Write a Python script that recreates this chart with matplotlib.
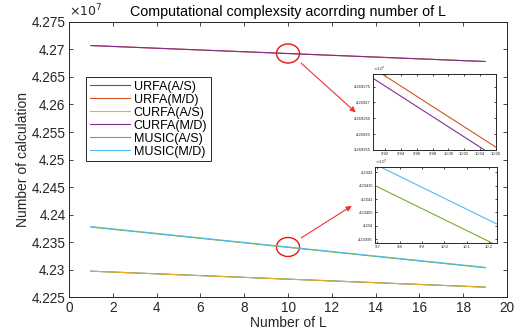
import matplotlib.pyplot as plt
from matplotlib.patches import Ellipse
from matplotlib.ticker import FuncFormatter

plt.rcParams['font.family'] = ['Liberation Sans', 'DejaVu Sans']

L = [1, 4, 7, 10, 13, 16, 19]

urfa_as = [42297040, 42292210, 42287380, 42282550, 42277720, 42272890, 42268060]
urfa_md = [42707145, 42702315, 42697485, 42692655, 42687825, 42682995, 42678165]
curfa_as = [42296990, 42292160, 42287330, 42282500, 42277670, 42272840, 42268010]
curfa_md = [42707113, 42702283, 42697453, 42692623, 42687793, 42682963, 42678133]
music_as = [42377220, 42364890, 42352560, 42340230, 42327900, 42315570, 42303240]
music_md = [42378020, 42365690, 42353360, 42341030, 42328700, 42316370, 42304040]

labels = ['URFA(A/S)', 'URFA(M/D)', 'CURFA(A/S)', 'CURFA(M/D)', 'MUSIC(A/S)', 'MUSIC(M/D)']
series = [urfa_as, urfa_md, curfa_as, curfa_md, music_as, music_md]
colors = ['#0072BD', '#D95319', '#EDB120', '#7E2F8E', '#77AC30', '#4DBEEE']

main_yticks = [4.225e7, 4.23e7, 4.235e7, 4.24e7, 4.245e7, 4.25e7, 4.255e7,
               4.26e7, 4.265e7, 4.27e7, 4.275e7]
main_xticks = [0, 2, 4, 6, 8, 10, 12, 14, 16, 18, 20]

top_xticks = [9.92, 9.94, 9.96, 9.98, 10, 10.02, 10.04, 10.06]
top_yticks = [42692550, 42692600, 42692650, 42692700, 42692750]
low_xticks = [9.7, 9.8, 9.9, 10, 10.1, 10.2]
low_yticks = [42339500, 42340000, 42340500, 42341000, 42341500, 42342000]

edge = '#262626'
sci = FuncFormatter(lambda v, p: '{:.7g}'.format(v / 1e7))


def style_axes(ax, size):
    ax.tick_params(direction='in', top=True, right=True, labelsize=size,
                   colors=edge, length=3 if size > 5 else 1.5, width=0.6)
    for s in ax.spines.values():
        s.set_color(edge)
        s.set_linewidth(0.7)
    ax.yaxis.set_major_formatter(sci)


fig = plt.figure(figsize=(5.27, 3.33), dpi=100)
ax = fig.add_axes([0.131, 0.108, 0.831, 0.826])
for ys, lab, c in zip(series, labels, colors):
    ax.plot(L, ys, color=c, lw=0.8, label=lab)

ax.set_xlim(0, 20)
ax.set_ylim(4.225e7, 4.275e7)
ax.set_xticks(main_xticks)
ax.set_yticks(main_yticks)
style_axes(ax, 9.8)
ax.tick_params(pad=2.5)
ax.set_xlabel('Number of L', fontsize=10, color=edge, labelpad=1)
ax.set_ylabel('Number of calculation', fontsize=10, color=edge, labelpad=1)
ax.set_title('Computational complexsity acorrding number of L', fontsize=10.3,
             color='black', pad=4)
ax.text(0.0, 1.008, r'$\times10^{7}$', transform=ax.transAxes, fontsize=9,
        color=edge, ha='left', va='bottom')

leg = ax.legend(loc='upper left', bbox_to_anchor=(0.039, 0.8), fontsize=9,
                handlelength=3.2, handletextpad=0.3, borderpad=0.3,
                labelspacing=0.08, fancybox=False, framealpha=1,
                borderaxespad=0)
leg.get_frame().set_edgecolor(edge)
leg.get_frame().set_linewidth(0.7)

# red circles and arrows
for cy, end in [(42692700, (0.679, 0.657)), (42341000, (0.672, 0.386))]:
    ax.add_patch(Ellipse((10, cy), 1.05, 34500, fill=False, ec='#ee1111', lw=1.0))
    ax.annotate('', xy=end, xycoords='figure fraction',
                xytext=(10.5, cy + (-14000 if cy > 42500000 else 14000)),
                textcoords='data',
                arrowprops=dict(arrowstyle='-|>', color='#ee3333', lw=0.8,
                                mutation_scale=8))

# upper inset
ax1 = fig.add_axes([0.708, 0.550, 0.233, 0.228])
for ys, c in [(urfa_md, colors[1]), (curfa_md, colors[3])]:
    ax1.plot(L, ys, color=c, lw=0.8)
ax1.set_xlim(9.905, 10.06)
ax1.set_ylim(42692550, 42692790)
ax1.set_xticks(top_xticks)
ax1.set_yticks(top_yticks)
style_axes(ax1, 3)
ax1.tick_params(pad=1.5)
ax1.text(0.0, 1.0, r'$\times10^{7}$', transform=ax1.transAxes, fontsize=3,
         color=edge, ha='left', va='bottom')

# lower inset
ax2 = fig.add_axes([0.712, 0.270, 0.231, 0.228])
for ys, c in [(music_as, colors[4]), (music_md, colors[5])]:
    ax2.plot(L, ys, color=c, lw=0.8)
ax2.set_xlim(9.69, 10.235)
ax2.set_ylim(42339350, 42342200)
ax2.set_xticks(low_xticks)
ax2.set_yticks(low_yticks)
style_axes(ax2, 3)
ax2.tick_params(pad=1.5)
ax2.text(0.0, 1.0, r'$\times10^{7}$', transform=ax2.transAxes, fontsize=3,
         color=edge, ha='left', va='bottom')

fig.savefig('out.png', dpi=100)
